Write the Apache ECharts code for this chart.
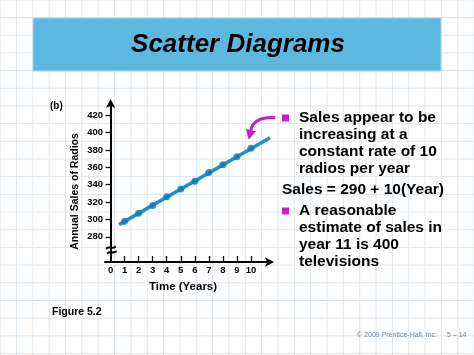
<!DOCTYPE html>
<html>
<head>
<meta charset="utf-8">
<script src="https://cdn.jsdelivr.net/npm/echarts@6/dist/echarts.min.js"></script>
<style>
  html, body { margin:0; padding:0; }
  body {
    width:474px; height:355px; overflow:hidden;
    background-color:#ffffff;
    background-image:
      linear-gradient(to right, #DCE5EC 1px, transparent 1px),
      linear-gradient(to bottom, #DCE5EC 1px, transparent 1px);
    background-size: 16.35px 17.7px;
    background-position: 16px 17px;
  }
  #chart { width:474px; height:355px; }
</style>
</head>
<body>
<div id="chart"></div>
<script>
// ---- data ----
const years = [1, 2, 3, 4, 5, 6, 7, 8, 9, 10];
const sales = [298, 307, 316, 326, 335, 344, 354, 363, 372, 382];
const trendYears = [0.6, 11.36];
const trendSales = [294, 394];
const yTickValues = [280, 300, 320, 340, 360, 380, 400, 420];
const xTickValues = [0, 1, 2, 3, 4, 5, 6, 7, 8, 9, 10];
const xTickMarks = [1, 2, 3, 4, 5, 6, 7, 8, 9, 10];

const titleText = 'Scatter Diagrams';
const yName = 'Annual Sales of Radios';
const xName = 'Time (Years)';
const bullet1 = ['Sales appear to be', 'increasing at a', 'constant rate of 10', 'radios per year'];
const equation = 'Sales = 290 + 10(Year)';
const bullet2 = ['A reasonable', 'estimate of sales in', 'year 11 is 400', 'televisions'];

const FONT = '"Liberation Sans", Arial, Helvetica, sans-serif';
const MAGENTA = '#C81EC8';

const chart = echarts.init(document.getElementById('chart'), null, { renderer: 'canvas' });

const option = {
  backgroundColor: 'transparent',
  animation: false,
  grid: { left: 105, top: 103, width: 165, height: 159 },
  xAxis: {
    type: 'value', min: -0.4, max: 11.36,
    splitLine: { show: false },
    axisLine: { show: true, lineStyle: { color: '#000', width: 2 }, symbol: ['none', 'arrow'], symbolSize: [7, 9], symbolOffset: [0, 4] },
    axisTick: { show: true, inside: true, length: 6, lineStyle: { color: '#000', width: 1.3 }, customValues: xTickMarks },
    axisLabel: { color: '#000', fontFamily: FONT, fontWeight: 'bold', fontSize: 9.5, margin: 3, customValues: xTickValues }
  },
  yAxis: {
    type: 'value', min: 251, max: 434,
    splitLine: { show: false },
    axisLine: { show: true, onZero: true, lineStyle: { color: '#000', width: 2 }, symbol: ['none', 'arrow'], symbolSize: [7, 9], symbolOffset: [0, 4] },
    axisTick: { show: true, inside: false, length: 5, lineStyle: { color: '#000', width: 1.3 }, customValues: yTickValues },
    axisLabel: { color: '#000', fontFamily: FONT, fontWeight: 'bold', fontSize: 9.5, margin: 2, customValues: yTickValues }
  },
  series: [
    {
      type: 'line',
      data: trendYears.map((x, i) => [x, trendSales[i]]),
      showSymbol: false,
      lineStyle: { color: '#1F92CC', width: 3.5 },
      z: 2
    },
    {
      type: 'scatter',
      data: years.map((x, i) => [x, sales[i]]),
      symbolSize: 7,
      itemStyle: { color: '#1675B2' },
      z: 3
    }
  ]
};
chart.setOption(option);

// annotations
const p10 = chart.convertToPixel({ seriesIndex: 1 }, [years[9], sales[9]]);
const ox = p10[0], oy = p10[1];

const textLines = (lines, x, yMid, lh) => lines.map((t, i) => ({
  type: 'text', x: x, y: yMid + i * lh,
  style: { text: t, fill: '#000', font: 'bold 15.5px ' + FONT, textVerticalAlign: 'middle', textAlign: 'left' }
}));

const graphics = [
  { type: 'rect', shape: { x: 33, y: 18, width: 408, height: 53 },
    style: { fill: '#5DB8DF', stroke: '#A6DAF0', lineWidth: 1 } },
  { type: 'text', x: 238, y: 45,
    style: { text: titleText, fill: '#000', font: 'italic bold 26px ' + FONT, textAlign: 'center', textVerticalAlign: 'middle' } },
  { type: 'text', x: 50, y: 106,
    style: { text: '(b)', fill: '#000', font: 'bold 10px ' + FONT, textAlign: 'left', textVerticalAlign: 'middle' } },
  { type: 'text', x: 52, y: 312,
    style: { text: 'Figure 5.2', fill: '#000', font: 'bold 10.5px ' + FONT, textAlign: 'left', textVerticalAlign: 'middle' } },
  { type: 'text', x: 75, y: 191.5, rotation: Math.PI / 2,
    style: { text: yName, fill: '#000', font: 'bold 10.5px ' + FONT, textAlign: 'center', textVerticalAlign: 'middle' } },
  { type: 'text', x: 183, y: 287,
    style: { text: xName, fill: '#000', font: 'bold 11.5px ' + FONT, textAlign: 'center', textVerticalAlign: 'middle' } },
  { type: 'text', x: 111.5, y: 251, rotation: 0.2,
    style: { text: '\u2248', fill: '#000', font: 'bold 20px ' + FONT, textAlign: 'center', textVerticalAlign: 'middle' } },
  // magenta arrow
  { type: 'bezierCurve',
    shape: { x1: ox + 24.3, y1: oy - 30.5, cpx1: ox + 9.3, cpy1: oy - 31.5, cpx2: ox + 0.8, cpy2: oy - 26, x2: ox, y2: oy - 17.7 },
    style: { stroke: MAGENTA, lineWidth: 3, fill: null } },
  { type: 'polygon',
    shape: { points: [[ox - 2.2, oy - 8.5], [ox + 5, oy - 17], [ox - 5, oy - 19.2]] },
    style: { fill: MAGENTA } },
  // bullets
  { type: 'rect', shape: { x: 282, y: 114.5, width: 7, height: 7 }, style: { fill: MAGENTA } },
  { type: 'rect', shape: { x: 282, y: 207.5, width: 7, height: 7 }, style: { fill: MAGENTA } },
  ...textLines(bullet1, 299, 118, 17),
  { type: 'text', x: 282, y: 190,
    style: { text: equation, fill: '#000', font: 'bold 15.5px ' + FONT, textAlign: 'left', textVerticalAlign: 'middle' } },
  ...textLines(bullet2, 299, 211, 17),
  { type: 'text', x: 357, y: 335,
    style: { text: '\u00A9 2009 Prentice-Hall, Inc.', fill: '#6F8398', font: '7px ' + FONT, textAlign: 'left', textVerticalAlign: 'middle' } },
  { type: 'text', x: 447, y: 335,
    style: { text: '5 \u2013 14', fill: '#6F8398', font: '7px ' + FONT, textAlign: 'left', textVerticalAlign: 'middle' } }
];
chart.setOption({ graphic: graphics });
</script>
</body>
</html>
